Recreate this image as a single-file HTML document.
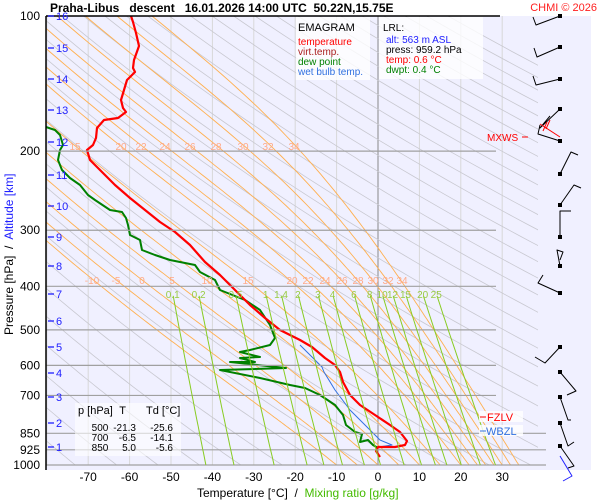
<!DOCTYPE html>
<html><head><meta charset="utf-8"><style>
html,body{margin:0;padding:0;background:#fff;width:600px;height:500px;overflow:hidden}
svg{display:block;font-family:"Liberation Sans",sans-serif}
</style></head><body>
<svg id="s" width="600" height="500" xmlns="http://www.w3.org/2000/svg">
<defs><clipPath id="c"><rect x="46" y="16" width="492" height="449"/></clipPath></defs>
<rect x="46" y="16" width="545" height="454" fill="#f0f0ff"/>
<g id="grid" clip-path="url(#c)"></g>
<g id="curves"></g>
<g id="txt"></g>
</svg>
<script>
const NS="http://www.w3.org/2000/svg";
function el(p,t,a,txt){const e=document.createElementNS(NS,t);for(const k in a)e.setAttribute(k,a[k]);if(txt!==undefined)e.textContent=txt;p.appendChild(e);return e;}
const X=T=>378+4.14*T, Y=p=>16+449*Math.log10(p/100);
const g=document.getElementById('grid'),cv=document.getElementById('curves'),tx=document.getElementById('txt');
for(let T=-80;T<=40;T+=10) el(g,'line',{x1:X(T),y1:16,x2:X(T),y2:465,stroke:T==0?'#888':'#d8d8d8','stroke-width':1});
for(let th=200;th<=560;th+=10){let d='';for(let p=100;p<=1000;p+=10){const T=th*Math.pow(p/1000,0.2857)-273.15;d+=(d?'L':'M')+X(T).toFixed(1)+','+Y(p).toFixed(1);}el(g,'path',{d,fill:'none',stroke:'#c8c8d0','stroke-width':0.8});}
function es(T){return 6.112*Math.exp(17.67*T/(T+243.5));}
[-10,-5,0,5,10,15,20,22,24,26,28,30,32,34].forEach(tw=>{let T=tw+273.15,p=1000,d='M'+X(tw)+','+Y(1000);
 while(p>100){const dp=-5;const rs=0.622*es(T-273.15)/(p-es(T-273.15));const L=2.5e6,Rd=287,cp=1005;
 const dT=(Rd*T+L*rs)/(cp+L*L*rs*0.622/(Rd*T*T))/p*dp;T+=dT;p+=dp;d+='L'+X(T-273.15).toFixed(1)+','+Y(p).toFixed(1);}
 el(g,'path',{d,fill:'none',stroke:'#ffb050','stroke-width':0.9});});
[[200,496],[300,496],[400,496],[500,496],[600,496],[700,496],[850,546],[925,546],[1000,546]].forEach(([p,x2])=>el(tx,'line',{x1:46,y1:Y(p),x2,y2:Y(p),stroke:'#a0a0a0','stroke-width':1.2}));
[0.1,0.2,0.5,1,1.4,2,3,4,6,8,10,12,15,20,25].forEach(w=>{let d='';for(let p=420;p<=1000;p+=20){const e=w*p/(622+w);const l=Math.log(e/6.112);const Td=243.5*l/(17.67-l);d+=(d?'L':'M')+X(Td).toFixed(1)+','+Y(p).toFixed(1);}
 el(tx,'path',{d,fill:'none',stroke:'#88cc22','stroke-width':1});
 const e=w*415/(622+w),l=Math.log(e/6.112);el(tx,'text',{x:X(243.5*l/(17.67-l)),y:298,'font-size':10,fill:'#99cc44','text-anchor':'middle'},String(w));});
[["15",75],["20",121],["22",141],["24",165],["26",190],["28",216],["30",243],["32",268],["34",294]].forEach(([t,x])=>el(tx,'text',{x,y:150,'font-size':10,fill:'#ffaa88','text-anchor':'middle'},t));
[["-10",92],["-5",116],["0",142],["5",172],["10",207],["15",248],["20",292],["22",308],["24",325],["26",342],["28",358],["30",373],["32",388],["34",402]].forEach(([t,x])=>el(tx,'text',{x,y:284,'font-size':10,fill:'#ffaa88','text-anchor':'middle'},t));
function pl(pts,col,w){el(cv,'polyline',{points:pts.map(a=>a.join(',')).join(' '),fill:'none',stroke:col,'stroke-width':w,'stroke-linejoin':'round'});}
pl([[300,345],[322,367],[324,372],[335,390],[350,410],[370,430],[380,440],[392,445],[378,447]],'#3070e0',1);
pl([[46,127],[55,130],[60,135],[63,145],[60,150],[58,160],[62,170],[70,178],[80,185],[88,195],[95,200],[110,210],[122,212],[126,218],[128,225],[130,235],[140,240],[142,250],[155,255],[170,260],[195,265],[200,272],[215,280],[220,290],[245,300],[260,310],[270,325],[275,338],[270,345],[250,350],[240,352],[260,357],[240,358],[255,362],[230,362],[286,368],[220,370],[260,378],[290,385],[305,388],[320,395],[335,405],[343,415],[346,425],[355,432],[362,434],[360,442],[368,440],[373,445],[378,448]],'#008000',2);
pl([[131,16],[133,22],[136,33],[139,46],[134,60],[133,68],[135,72],[127,80],[124,90],[121,100],[123,108],[126,112],[118,118],[104,120],[97,128],[96,138],[93,145],[87,150],[90,160],[100,170],[115,185],[130,198],[145,210],[160,222],[175,232],[190,245],[205,262],[220,275],[235,290],[250,305],[265,318],[280,330],[300,340],[312,347],[325,358],[335,365],[340,372],[343,382],[350,395],[360,405],[375,415],[390,425],[400,432],[407,441],[405,445],[395,447],[378,447],[376,451],[380,457]],'#ff0000',2.2);
el(tx,'line',{x1:46,y1:16,x2:46,y2:470,stroke:'#000','stroke-width':1.5});
el(tx,'line',{x1:46,y1:16,x2:500,y2:16,stroke:'#000','stroke-width':1.5});
[100,200,300,400,500,600,700,850,925,1000].forEach(p=>el(tx,'text',{x:40,y:Y(p)+4,'font-size':12,'text-anchor':'end'},String(p)));
[[16,16],[15,48],[14,79],[13,110],[12,142],[11,175],[10,206],[9,237],[8,266],[7,294],[6,321],[5,347],[4,373],[3,397],[2,423],[1,447]].forEach(([k,y])=>{el(tx,'line',{x1:48,y1:y,x2:54,y2:y,stroke:'#2020ff','stroke-width':1.3});el(tx,'text',{x:56,y:y+4,'font-size':11,fill:'#2020ff'},String(k));});
for(let T=-70;T<=30;T+=10) el(tx,'text',{x:X(T),y:481,'font-size':12,'text-anchor':'middle'},String(T));
const t1=el(tx,'text',{x:197,y:497,'font-size':12,style:'white-space:pre'});t1.innerHTML='Temperature [°C]  /  <tspan fill="#44bb00">Mixing ratio [g/kg]</tspan>';
const t2=el(tx,'text',{transform:'translate(13,335) rotate(-90)','font-size':12,style:'white-space:pre'});t2.innerHTML='Pressure [hPa]  /  <tspan fill="#2020ff">Altitude [km]</tspan>';
el(tx,'text',{x:50,y:12,'font-size':12,'font-weight':'bold',style:'white-space:pre'},'Praha-Libus   descent   16.01.2026 14:00 UTC  50.22N,15.75E');
el(tx,'text',{x:597,y:11,'font-size':11,fill:'#ff2020','text-anchor':'end'},'CHMI © 2026');
el(tx,'rect',{x:296,y:17,width:74,height:63,fill:'#fff','fill-opacity':0.8});
el(tx,'text',{x:298,y:31,'font-size':11},'EMAGRAM');
[['temperature','#ff0000',45],['virt.temp.','#aa2020',55],['dew point','#008000',65],['wet bulb temp.','#3070e0',75]].forEach(([t,c,y])=>el(tx,'text',{x:298,y,'font-size':10,fill:c},t));
el(tx,'rect',{x:379,y:17,width:104,height:62,fill:'#fff','fill-opacity':0.8});
el(tx,'text',{x:383,y:31,'font-size':10},'LRL:');
[['alt: 563 m ASL','#2020ff',43],['press: 959.2 hPa','#000',53],['temp: 0.6 °C','#ff0000',63],['dwpt: 0.4 °C','#008000',73]].forEach(([t,c,y])=>el(tx,'text',{x:386,y,'font-size':10,fill:c},t));
el(tx,'rect',{x:75,y:403,width:106,height:53,fill:'#fff','fill-opacity':0.6});
const tb=[['p [hPa]','T','Td [°C]',414],['500','-21.3','-25.6',431],['700','-6.5','-14.1',441],['850','5.0','-5.6',451]];
tb.forEach(([a,b,c,y],i)=>{el(tx,'text',{x:i?100:78,y,'font-size':i?10:11,'text-anchor':i?'middle':'start'},a);el(tx,'text',{x:i?136:126,y,'font-size':i?10:11,'text-anchor':'end'},b);el(tx,'text',{x:i?173:146,y,'font-size':i?10:11,'text-anchor':i?'end':'start'},c);});
el(tx,'rect',{x:479,y:411,width:44,height:11,fill:'#fff','fill-opacity':0.8});
el(tx,'rect',{x:479,y:425,width:44,height:11,fill:'#fff','fill-opacity':0.8});
el(tx,'line',{x1:480,y1:417,x2:486,y2:417,stroke:'#f00'});el(tx,'text',{x:487,y:421,'font-size':11,fill:'#f00'},'FZLV');
el(tx,'line',{x1:480,y1:431,x2:486,y2:431,stroke:'#3070e0'});el(tx,'text',{x:486,y:435,'font-size':11,fill:'#3070e0'},'WBZL');
el(tx,'text',{x:487,y:141,'font-size':10,fill:'#f00'},'MXWS');el(tx,'line',{x1:522,y1:137,x2:528,y2:137,stroke:'#f00'});
const wb=[[[560,16],[536,25],[533,17]],[[560,47],[537,57],[534,48]],[[560,79],[536,85],[533,76]],[[560,109],[540,128],[550,116]],[[560,141],[538,134],[540,125]],[[560,174],[571,152],[578,155]],[[560,205],[574,185],[581,188]],[[560,237],[560,211],[571,211]],[[560,266],[557,250],[563,252],[560,260]],[[560,293],[538,283],[543,275]],[[560,347],[545,363],[535,357]],[[560,372],[576,391],[567,395]],[[560,397],[568,420],[571,420]],[[560,423],[568,446],[574,442]],[[560,446],[574,466],[568,468]]];
wb.forEach(p=>{pl(p,'#000',1);el(cv,'rect',{x:p[0][0]-2,y:p[0][1]-2,width:4,height:4,fill:'#000'});});
pl([[560,137],[540,124]],'#f00',1);pl([[547,122],[543,131]],'#f00',1);pl([[550,120],[546,129]],'#f00',1);
pl([[560,456],[572,476],[563,481]],'#2020ff',1);
</script>
</body></html>
